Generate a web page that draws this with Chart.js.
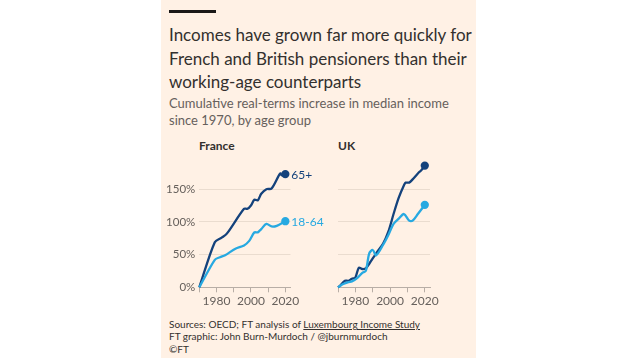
<!DOCTYPE html>
<html>
<head>
<meta charset="utf-8">
<script src="https://cdn.jsdelivr.net/npm/chart.js@4"></script>
<style>
  body { margin: 0; background: #fff; width: 636px; height: 358px; overflow: hidden; font-family: Lato, "Open Sans", sans-serif; }
  #panel { position: absolute; left: 161px; top: 0; width: 315px; height: 358px; background: #fff1e5; }
  .bar { position: absolute; left: 8px; top: 10px; width: 47px; height: 3px; background: #1a1817; }
  .title { position: absolute; left: 8px; top: 23px; white-space: nowrap; font-size: 17px; line-height: 23.5px; color: #33302e; }
  .sub { position: absolute; left: 8px; top: 95px; white-space: nowrap; font-size: 13px; line-height: 17px; color: #66605c; }
  .foot { position: absolute; left: 8px; top: 318px; white-space: nowrap; font-size: 10px; line-height: 12.3px; color: #33302e; }
  .foot u { text-underline-offset: 1px; }
  .panelname { position: absolute; top: 138px; font-size: 12px; font-weight: bold; color: #33302e; }
  canvas { position: absolute; }
</style>
</head>
<body>
<div id="panel">
  <div class="bar"></div>
  <div class="title">Incomes have grown far more quickly for<br>French and British pensioners than their<br>working-age counterparts</div>
  <div class="sub">Cumulative real-terms increase in median income<br>since 1970, by age group</div>
  <div class="panelname" style="left:38px">France</div>
  <div class="panelname" style="left:177px">UK</div>
  <div class="foot">Sources: OECD; FT analysis of <u>Luxembourg Income Study</u><br>FT graphic: John Burn-Murdoch / @jburnmurdoch<br>©FT</div>
</div>
<canvas id="fr" width="170" height="180" style="left:161px;top:130px"></canvas>
<canvas id="uk" width="150" height="180" style="left:300px;top:130px"></canvas>
<script>
// France
const frOldYears = [1970, 1979, 1983, 1986, 1996, 1998, 2000, 2002, 2004, 2006, 2009, 2012, 2017, 2018, 2020];
const frOld      = [0,    69,   76,   82,   120,  120,  125,  134,  133,  143,  150,  151,  174,  171,  173];
const frWorkYears = [1970, 1979, 1982, 1985, 1991, 1996, 1999, 2002, 2004, 2006, 2009, 2012, 2015, 2020];
const frWork      = [0,    42,   46,   49,   59,   64,   71,   84,   84,   89,   97,   93,   94,   101];
// UK
const ukOldYears = [1970, 1971, 1974, 1976, 1978, 1980, 1982, 1984, 1986, 1988, 1992, 1996, 1999, 2002, 2005, 2008, 2009, 2011, 2013, 2016, 2018, 2020];
const ukOld      = [0,    2,    10,   10,   13,   15,   30,   28,   29,   36,   52,   67,   85,   112,  137,  156,  160,  160,  165,  174,  179,  186];
const ukWorkYears = [1970, 1973, 1976, 1978, 1981, 1984, 1986, 1988, 1990, 1992, 1996, 1999, 2002, 2005, 2008, 2011, 2013, 2016, 2020];
const ukWork      = [0,    5,    8,    9,    14,   22,   25,   52,   57,   49,   65,   80,   97,   105,  112,  102,  102,  112,  126];

const xTicks = [1970, 1980, 1990, 2000, 2010, 2020];
const xLabels = [1980, 2000, 2020];
const yTicks = [0, 50, 100, 150];
const labelOld = '65+';
const labelWork = '18-64';

const DARK = '#14427c';
const LIGHT = '#27a9e1';
const INK = '#66605c';

const pts = (xs, ys) => xs.map((x, i) => ({ x: x, y: ys[i] }));

const endLabels = {
  id: 'endLabels',
  afterDatasetsDraw(chart, args, opts) {
    if (!opts.show) return;
    const ctx = chart.ctx;
    ctx.save();
    ctx.font = '12px Lato, "Open Sans", sans-serif';
    ctx.textBaseline = 'middle';
    chart.data.datasets.forEach((ds, i) => {
      const meta = chart.getDatasetMeta(i);
      const last = meta.data[meta.data.length - 1];
      ctx.fillStyle = ds.borderColor;
      ctx.fillText(ds.label, last.x + 6, last.y + 1);
    });
    ctx.restore();
  }
};

function makeChart(id, oldYears, oldVals, workYears, workVals, showY, padLeft, padRight) {
  const line = (label, xs, ys, color) => ({
    label: label,
    data: pts(xs, ys),
    borderColor: color,
    backgroundColor: color,
    borderWidth: 2.3,
    tension: 0.3,
    clip: false,
    pointRadius: ys.map((v, i) => i === ys.length - 1 ? 3 : 0),
    pointHoverRadius: 0
  });
  return new Chart(document.getElementById(id), {
    type: 'line',
    data: {
      datasets: [
        line(labelWork, workYears, workVals, LIGHT),
        line(labelOld, oldYears, oldVals, DARK)
      ]
    },
    plugins: [endLabels],
    options: {
      responsive: false,
      animation: false,
      events: [],
      layout: { padding: { top: 33, left: padLeft, right: padRight, bottom: 0 } },
      plugins: {
        legend: { display: false },
        tooltip: { enabled: false },
        endLabels: { show: showY }
      },
      scales: {
        x: {
          type: 'linear',
          min: 1970,
          max: 2023,
          afterBuildTicks: s => { s.ticks = xTicks.map(v => ({ value: v })); },
          afterFit: s => { s.height = 22.7; },
          grid: { drawOnChartArea: false, drawTicks: true, tickLength: 5, color: '#b8aea6' },
          border: { display: true, color: '#b8aea6', width: 1 },
          ticks: {
            padding: 2,
            maxRotation: 0,
            autoSkip: false,
            color: INK,
            font: { family: 'Lato, "Open Sans", sans-serif', size: 12 },
            callback: v => xLabels.includes(v) ? String(v) : ''
          }
        },
        y: {
          min: 0,
          max: 190,
          afterBuildTicks: s => { s.ticks = yTicks.map(v => ({ value: v })); },
          afterFit: s => { s.width = showY ? 38.3 : 0; },
          grid: { color: ctx => ctx.tick.value === 0 ? 'rgba(0,0,0,0)' : '#eadccf', drawTicks: false },
          border: { display: false },
          ticks: {
            display: showY,
            padding: 4,
            color: INK,
            font: { family: 'Lato, "Open Sans", sans-serif', size: 11.5 },
            callback: v => v + '%'
          }
        }
      }
    }
  });
}

makeChart('fr', frOldYears, frOld, frWorkYears, frWork, true, 0, 40.5);
makeChart('uk', ukOldYears, ukOld, ukWorkYears, ukWork, false, 38, 20);
</script>
</body>
</html>
